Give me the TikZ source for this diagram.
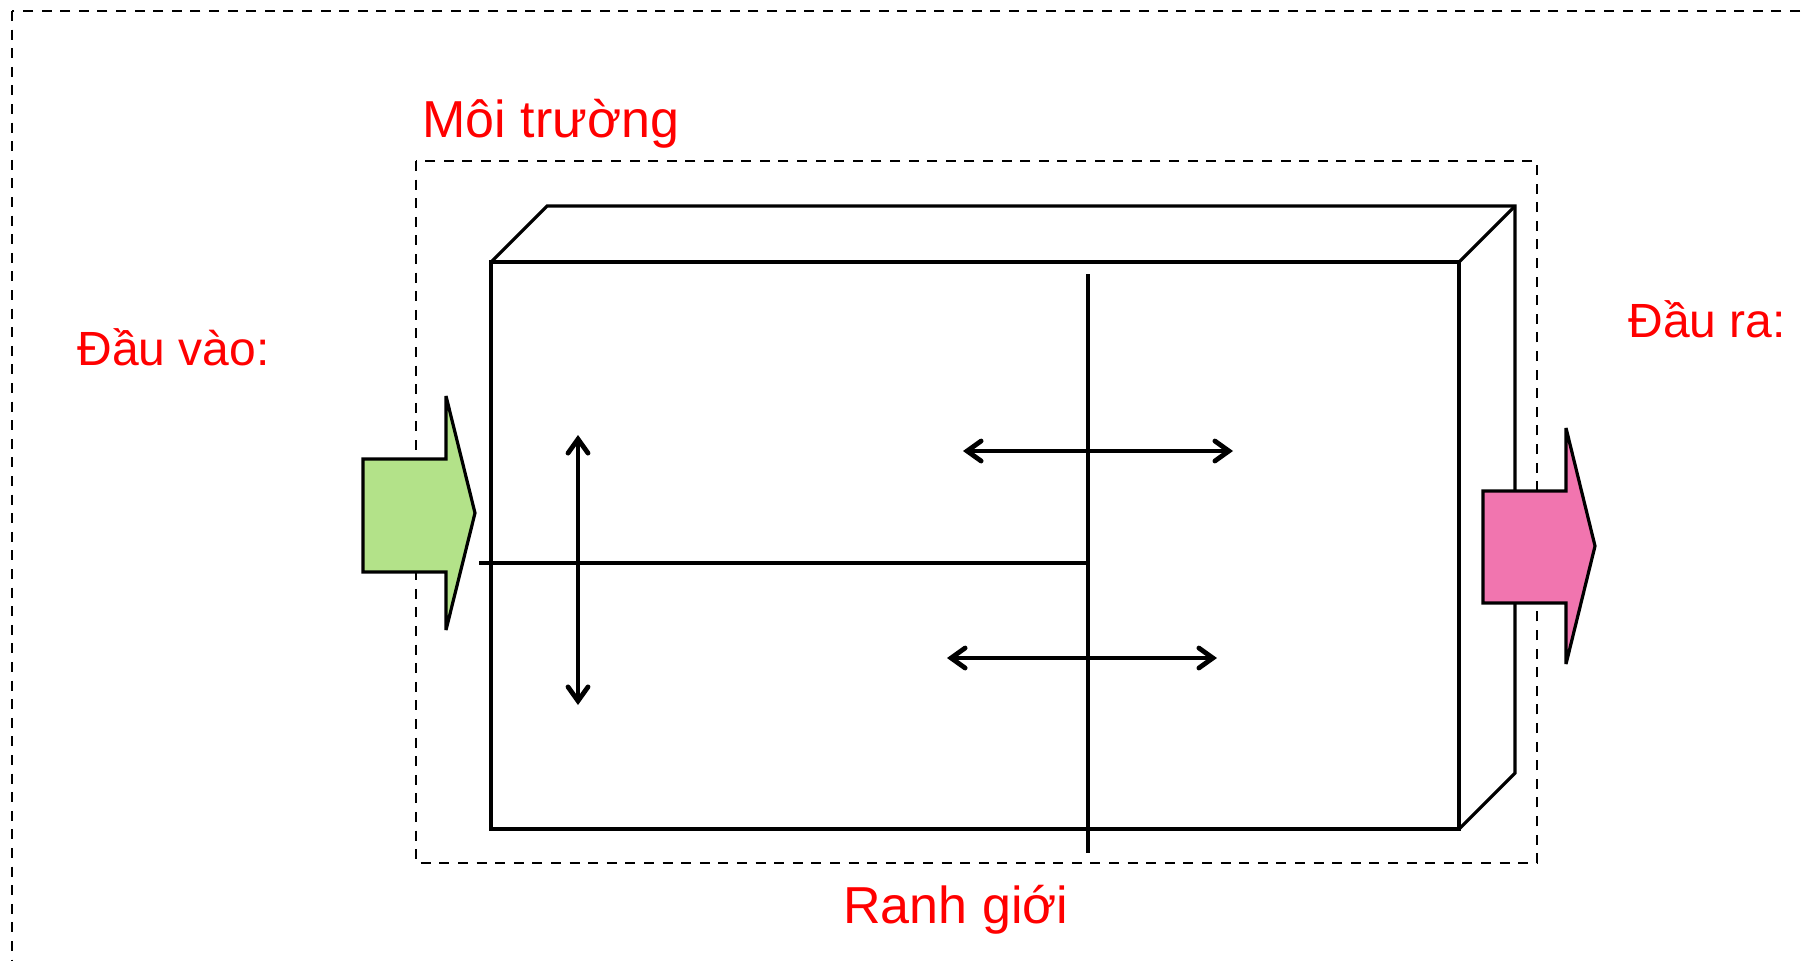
\documentclass[tikz,border=0pt]{standalone}
\usepackage{fontspec}
\setmainfont{Liberation Sans}
\usetikzlibrary{arrows.meta}
\definecolor{inarrow}{RGB}{179,226,137}
\definecolor{outarrow}{RGB}{241,117,175}
\definecolor{labelred}{RGB}{255,0,0}
\tikzset{
  pxgrid/.style={x=0.5pt,y=-0.5pt},
  dashbox/.style={draw=black,line width=1.4pt,dash pattern=on 5pt off 4.3pt},
  boxline/.style={draw=black,line width=1.6pt,line join=miter},
  divline/.style={draw=black,line width=1.6pt},
  dblarrow/.style={line width=2.4pt,{Straight Barb[length=7pt,width=10pt,line cap=round]}-{Straight Barb[length=7pt,width=10pt,line cap=round]}},
  bigarrow/.style={draw=black,line width=1.6pt,line join=miter,miter limit=3},
  redlabel/.style={text=labelred,font=\fontsize{24pt}{28pt}\selectfont,inner sep=0pt,anchor=base west},
  redlabelbig/.style={redlabel,font=\fontsize{26pt}{30pt}\selectfont}
}
\begin{document}
\begin{tikzpicture}[pxgrid]
\useasboundingbox (0,0) rectangle (1802,960);
\clip (0,0) rectangle (1802,960);
\fill[white] (0,0) rectangle (1802,960);
% outer dashed frame (runs past right and bottom edges)
\draw[dashbox] (12,11) rectangle (1860,1010);
% inner dashed frame (environment)
\draw[dashbox] (416,161) rectangle (1537,863);
% box (system)
\coordinate (fTL) at (491,262);
\coordinate (fTR) at (1459,262);
\coordinate (fBR) at (1459,829);
\coordinate (fBL) at (491,829);
\coordinate (bTL) at (547,206);
\coordinate (bTR) at (1515,206);
\coordinate (bBR) at (1515,773);
\draw[boxline] (fTL) rectangle (fBR);
\draw[boxline] (fTL) -- (bTL) -- (bTR) -- (bBR) -- (fBR);
\draw[boxline] (bTR) -- (fTR);
% dividing lines
\coordinate (vTop) at (1088,274);
\coordinate (vBot) at (1088,853);
\coordinate (hL) at (479,563);
\coordinate (hR) at (1088,563);
\draw[divline] (vTop) -- (vBot);
\draw[divline] (hL) -- (hR);
% double arrows
\coordinate (a1t) at (578,435);
\coordinate (a1b) at (578,705);
\coordinate (a2l) at (963,451);
\coordinate (a2r) at (1233,451);
\coordinate (a3l) at (947,658);
\coordinate (a3r) at (1217,658);
\draw[dblarrow] (a1t) -- (a1b);
\draw[dblarrow] (a2l) -- (a2r);
\draw[dblarrow] (a3l) -- (a3r);
% input block arrow
\filldraw[bigarrow,fill=inarrow] (363,459) -- (446,459) -- (446,396) -- (475,513) -- (446,630) -- (446,572) -- (363,572) -- cycle;
% output block arrow
\filldraw[bigarrow,fill=outarrow] (1483,491) -- (1566,491) -- (1566,428) -- (1595,546) -- (1566,664) -- (1566,603) -- (1483,603) -- cycle;
% labels
\node[redlabelbig] (moi) at (422,137) {Môi trường};
\node[redlabel] (vao) at (77,365) {Đầu vào:};
\node[redlabel] (ra) at (1628,337) {Đầu ra:};
\node[redlabelbig] (ranh) at (843,923) {Ranh giới};
\end{tikzpicture}
\end{document}
